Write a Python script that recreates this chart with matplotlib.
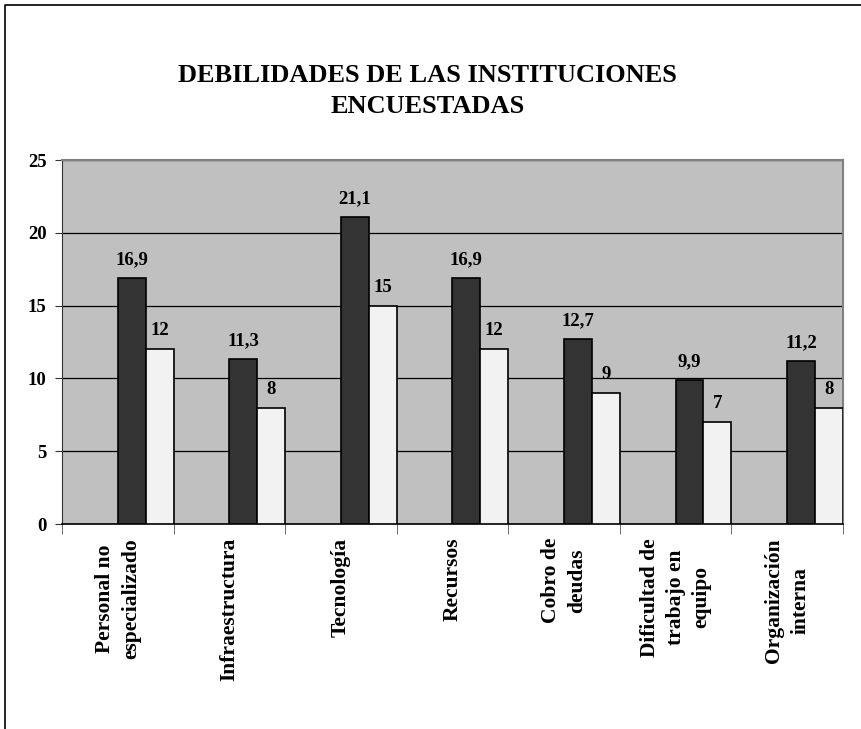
import matplotlib.pyplot as plt
from matplotlib.lines import Line2D

# datos
categorias = ["Personal no\nespecializado", "Infraestructura", "Tecnología", "Recursos",
              "Cobro de\ndeudas", "Dificultad de\ntrabajo en\nequipo", "Organización\ninterna"]
porcentaje = [16.9, 11.3, 21.1, 16.9, 12.7, 9.9, 11.2]
cantidad = [12, 8, 15, 12, 9, 7, 8]
titulo = "DEBILIDADES DE LAS INSTITUCIONES\nENCUESTADAS"

plt.rcParams['font.family'] = ['Liberation Serif', 'DejaVu Serif']
plt.rcParams['font.weight'] = 'bold'

fig = plt.figure(figsize=(8.61, 7.29), dpi=100)
ax = fig.add_axes([0.072, 0.2812, 0.907, 0.4993])
ax.set_facecolor('#c0c0c0')

x = list(range(len(categorias)))
ancho = 0.25
b1 = ax.bar(x, porcentaje, width=ancho, align='edge', color='#333333',
            edgecolor='black', linewidth=1.2, zorder=3)
b2 = ax.bar([i + ancho for i in x], cantidad, width=ancho, align='edge', color='#f2f2f2',
            edgecolor='black', linewidth=1.2, zorder=3)

def etiqueta(v):
    return f"{v:g}".replace('.', ',')

for barras, valores in ((b1, porcentaje), (b2, cantidad)):
    for r, v in zip(barras, valores):
        ax.annotate(etiqueta(v), (r.get_x() + r.get_width() / 2, r.get_height()),
                    xytext=(0, 10), textcoords='offset points', ha='center', va='baseline',
                    fontsize=13.5, fontweight='bold')

ax.set_ylim(0, 25)
ax.set_yticks(range(0, 26, 5))
ax.set_xlim(-0.5, len(categorias) - 0.5)
ax.yaxis.grid(True, color='black', linewidth=0.9, zorder=1)
ax.set_axisbelow(True)

ax.set_xticks(x)
ax.set_xticklabels(categorias, rotation=90, fontsize=15.5, fontweight='bold', va='top', ha='center',
                   linespacing=1.4)
ax.set_xticks([i + 0.5 for i in range(-1, len(categorias))], minor=True)
ax.tick_params(axis='x', which='major', length=0, pad=10)
ax.tick_params(axis='x', which='minor', length=7, color='#555555', direction='out')
ax.tick_params(axis='y', length=5, pad=6, labelsize=13.5, color='#333333')
for t in ax.get_yticklabels():
    t.set_fontweight('bold')

ax.spines['top'].set_color('#808080')
ax.spines['right'].set_color('#808080')
ax.spines['top'].set_linewidth(1.5)
ax.spines['right'].set_linewidth(1.5)
ax.spines['left'].set_color('#333333')
ax.spines['bottom'].set_color('black')
ax.spines['bottom'].set_linewidth(1.2)

fig.text(0.497, 0.912, titulo, ha='center', va='top', fontsize=19, fontweight='bold',
         linespacing=1.45)

# marco de la figura (recortado a la derecha y abajo)
fig.add_artist(Line2D([4.5 / 861, 4.5 / 861, 1], [0, 1 - 5 / 729, 1 - 5 / 729],
                      color='black', linewidth=1.2, transform=fig.transFigure))

fig.savefig('out.png', dpi=100)
